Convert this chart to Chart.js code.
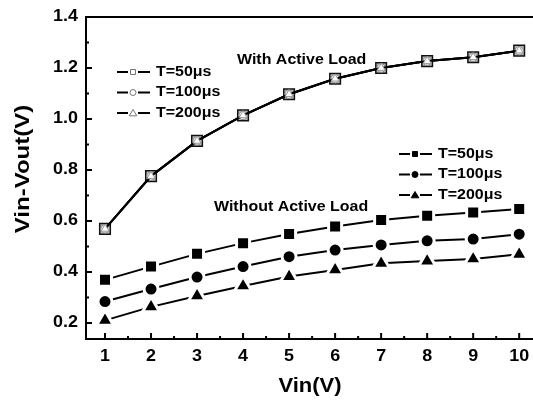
<!DOCTYPE html>
<html>
<head>
<meta charset="utf-8">
<script src="https://cdn.jsdelivr.net/npm/chart.js@4.4.1/dist/chart.umd.min.js"></script>
<style>
	body { margin: 0; background: #fff; }
	#wrap { width: 533px; height: 405px; position: relative; }
</style>
</head>
<body>
<div id="wrap"><canvas id="myChart"></canvas></div>
<script>
// chart data
var vin = [1, 2, 3, 4, 5, 6, 7, 8, 9, 10];
var withLoad50 = [0.569, 0.776, 0.914, 1.014, 1.097, 1.158, 1.2, 1.227, 1.242, 1.268];
var withLoad100 = [0.569, 0.776, 0.914, 1.014, 1.097, 1.158, 1.2, 1.227, 1.242, 1.268];
var withLoad200 = [0.569, 0.776, 0.914, 1.014, 1.097, 1.158, 1.2, 1.227, 1.242, 1.268];
var noLoad50 = [0.369, 0.421, 0.471, 0.513, 0.549, 0.578, 0.604, 0.62, 0.633, 0.647];
var noLoad100 = [0.284, 0.333, 0.38, 0.421, 0.46, 0.486, 0.506, 0.522, 0.529, 0.548];
var noLoad200 = [0.21, 0.263, 0.306, 0.345, 0.382, 0.408, 0.434, 0.443, 0.451, 0.469];
var seriesLabels = ["T=50\u03BCs", "T=100\u03BCs", "T=200\u03BCs"];
var xTicks = [1, 2, 3, 4, 5, 6, 7, 8, 9, 10];
var yTicks = [0.2, 0.4, 0.6, 0.8, 1.0, 1.2, 1.4];

var FONT = '"Liberation Sans", Arial, sans-serif';

function pts(arr) {
	return vin.map(function(v, i) { return { x: v, y: arr[i] }; });
}

// draw bold text, a bit wider than normal like the original figure
function txt(ctx, str, x, y, size, align, sx, rot) {
	ctx.save();
	ctx.font = "bold " + size + "px " + FONT;
	ctx.fillStyle = "#000";
	ctx.translate(x, y);
	if (rot) ctx.rotate(rot);
	ctx.scale(sx, 1);
	ctx.textAlign = align;
	ctx.textBaseline = "middle";
	ctx.fillText(str, 0, 0);
	ctx.restore();
}

// small legend marker
function marker(ctx, style, x, y, filled) {
	ctx.save();
	ctx.lineWidth = 1;
	ctx.strokeStyle = filled ? "#000" : "#777";
	ctx.fillStyle = filled ? "#000" : "#fff";
	ctx.beginPath();
	if (style === "rect") {
		ctx.rect(x - 2.5, y - 2.5, 5, 5);
	} else if (style === "circle") {
		ctx.arc(x, y, 3, 0, Math.PI * 2);
	} else {
		ctx.moveTo(x, y - 3.5);
		ctx.lineTo(x + 3.8, y + 2.8);
		ctx.lineTo(x - 3.8, y + 2.8);
		ctx.closePath();
	}
	ctx.fill();
	ctx.stroke();
	ctx.restore();
}

function legendGroup(ctx, chart, idx, x0, y0, filled) {
	idx.forEach(function(d, i) {
		var ds = chart.data.datasets[d];
		var y = y0 + i * 20.5;
		ctx.save();
		ctx.strokeStyle = "#000";
		ctx.lineWidth = 2;
		ctx.beginPath();
		ctx.moveTo(x0, y); ctx.lineTo(x0 + 11, y);
		ctx.moveTo(x0 + 21, y); ctx.lineTo(x0 + 33, y);
		ctx.stroke();
		ctx.restore();
		marker(ctx, ds.pointStyle, x0 + 16, y, filled);
		txt(ctx, ds.label, x0 + 39, y, 14, "left", 1.14);
	});
}

var decorations = {
	id: "decorations",
	afterDraw: function(chart) {
		var ctx = chart.ctx;
		var a = chart.chartArea;
		var xs = chart.scales.x;
		var ys = chart.scales.y;

		// frame: left, bottom, top
		ctx.save();
		ctx.strokeStyle = "#000";
		ctx.lineWidth = 2;
		ctx.beginPath();
		ctx.moveTo(a.right + 2, a.top);
		ctx.lineTo(a.left, a.top);
		ctx.lineTo(a.left, a.bottom);
		ctx.lineTo(a.right + 2, a.bottom);
		ctx.stroke();

		// inward ticks
		ctx.lineWidth = 2;
		ctx.beginPath();
		xTicks.forEach(function(v) {
			var p = xs.getPixelForValue(v);
			ctx.moveTo(p, a.bottom); ctx.lineTo(p, a.bottom - 6);
			var m = xs.getPixelForValue(v + 0.5);
			if (m < a.right) { ctx.moveTo(m, a.bottom); ctx.lineTo(m, a.bottom - 3); }
		});
		yTicks.forEach(function(v) {
			var p = ys.getPixelForValue(v);
			ctx.moveTo(a.left, p); ctx.lineTo(a.left + 6, p);
			if (v < 1.4) {
				var m = ys.getPixelForValue(v + 0.1);
				ctx.moveTo(a.left, m); ctx.lineTo(a.left + 3, m);
			}
		});
		ctx.stroke();
		ctx.restore();

		// tick labels
		xTicks.forEach(function(v) {
			txt(ctx, String(v), xs.getPixelForValue(v), 357, 16, "center", 1.12);
		});
		yTicks.forEach(function(v) {
			txt(ctx, v.toFixed(1), 78, ys.getPixelForValue(v), 16, "right", 1.12);
		});

		// axis titles
		txt(ctx, "Vin(V)", 310, 386, 20, "center", 1.1);
		txt(ctx, "Vin-Vout(V)", 23, 169, 20, "center", 1.2, -Math.PI / 2);

		// text labels inside the plot
		txt(ctx, "With Active Load", 237, 60, 14, "left", 1.14);
		txt(ctx, "Without Active Load", 214, 207, 14, "left", 1.14);

		// two legend groups
		legendGroup(ctx, chart, [0, 1, 2], 117, 72, false);
		legendGroup(ctx, chart, [3, 4, 5], 399, 154, true);
	}
};

var lineBase = {
	borderColor: "#000",
	borderWidth: 2,
	tension: 0,
	fill: false
};

function ds(label, arr, extra) {
	var o = { label: label, data: pts(arr) };
	for (var k in lineBase) o[k] = lineBase[k];
	for (var j in extra) o[j] = extra[j];
	return o;
}

new Chart("myChart", {
	type: "line",
	data: {
		datasets: [
			// with active load, hollow markers on top of each other
			ds(seriesLabels[0], withLoad50, {
				pointStyle: "rect", pointRadius: 7.5, pointBackgroundColor: "#b8b8b8",
				pointBorderColor: "#111", pointBorderWidth: 1.5, order: 3
			}),
			ds(seriesLabels[1], withLoad100, {
				pointStyle: "circle", pointRadius: 4.2, pointBackgroundColor: "#f2f2f2",
				pointBorderColor: "#888", pointBorderWidth: 1, order: 2
			}),
			ds(seriesLabels[2], withLoad200, {
				pointStyle: "triangle", pointRadius: 4.6, pointBackgroundColor: "#fff",
				pointBorderColor: "#999", pointBorderWidth: 1, order: 1
			}),
			// without active load, filled markers with a white gap around them
			ds(seriesLabels[0], noLoad50, {
				pointStyle: "rect", pointRadius: 9.2, pointBackgroundColor: "#000",
				pointBorderColor: "#fff", pointBorderWidth: 3
			}),
			ds(seriesLabels[1], noLoad100, {
				pointStyle: "circle", pointRadius: 7, pointBackgroundColor: "#000",
				pointBorderColor: "#fff", pointBorderWidth: 3
			}),
			ds(seriesLabels[2], noLoad200, {
				pointStyle: "triangle", pointRadius: 9.8, pointBackgroundColor: "#000",
				pointBorderColor: "#fff", pointBorderWidth: 3
			})
		]
	},
	options: {
		responsive: true,
		maintainAspectRatio: false,
		animation: false,
		events: [],
		layout: { autoPadding: false, padding: { top: 17, right: 0, left: 0, bottom: 0 } },
		plugins: {
			legend: { display: false },
			tooltip: { enabled: false }
		},
		scales: {
			x: {
				type: "linear",
				min: 0.587,
				max: 10.3,
				grid: { display: false },
				border: { display: false },
				ticks: { display: false },
				afterFit: function(s) { s.height = 66; }
			},
			y: {
				type: "linear",
				min: 0.137,
				max: 1.4,
				grid: { display: false },
				border: { display: false },
				ticks: { display: false },
				afterFit: function(s) { s.width = 86; }
			}
		}
	},
	plugins: [decorations]
});
</script>
</body>
</html>
